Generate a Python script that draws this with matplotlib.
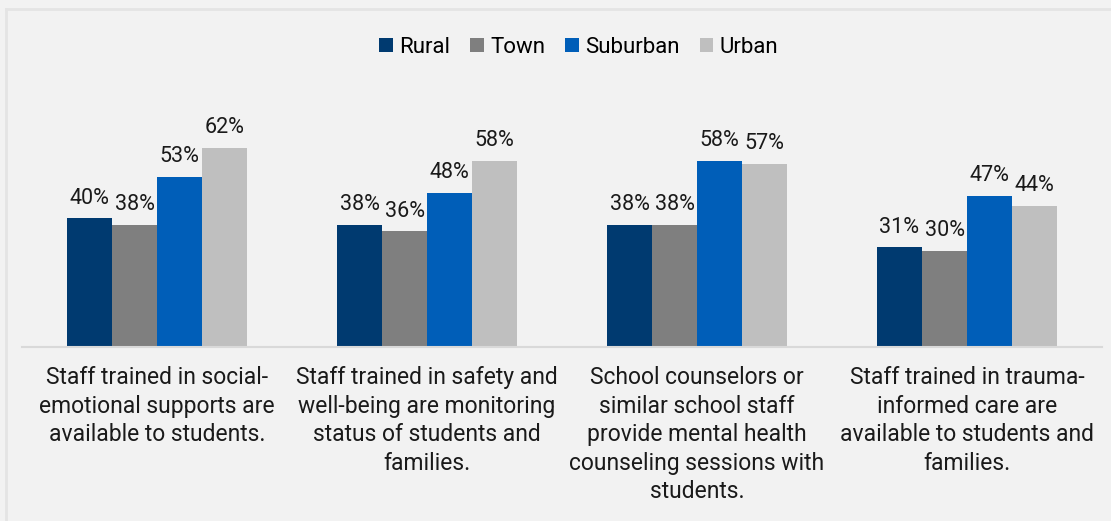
import numpy as np
import matplotlib.pyplot as plt
from matplotlib.lines import Line2D

plt.rcParams['font.family'] = ['Roboto', 'DejaVu Sans']

categories = [
    "Staff trained in social-\nemotional supports are\navailable to students.",
    "Staff trained in safety and\nwell-being are monitoring\nstatus of students and\nfamilies.",
    "School counselors or\nsimilar school staff\nprovide mental health\ncounseling sessions with\nstudents.",
    "Staff trained in trauma-\ninformed care are\navailable to students and\nfamilies.",
]
series = ["Rural", "Town", "Suburban", "Urban"]
rural = [40, 38, 38, 31]
town = [38, 36, 38, 30]
suburban = [53, 48, 58, 47]
urban = [62, 58, 57, 44]
colors = ["#003a70", "#7f7f7f", "#005eb8", "#bfbfbf"]

bg = "#f2f2f2"
fig = plt.figure(figsize=(11.11, 5.21), dpi=100, facecolor=bg)
ax = fig.add_axes([22/1111, (521-347)/521, 1080/1111, 225/521])
ax.set_facecolor(bg)

# chart border (top and left edges visible)
fig.add_artist(Line2D([5.5/1111, 5.5/1111], [0, 1-8.5/521], transform=fig.transFigure,
                      color="#e4e4e4", lw=2))
fig.add_artist(Line2D([5.5/1111, 1], [1-8.5/521, 1-8.5/521], transform=fig.transFigure,
                      color="#e4e4e4", lw=2))

x = np.arange(len(categories))
w = 1/6
for i, (name, vals) in enumerate(zip(series, [rural, town, suburban, urban])):
    pos = x + (i - 1.5) * w
    bars = ax.bar(pos, vals, width=w, color=colors[i], label=name, zorder=2)
    for xp, v in zip(pos, vals):
        ax.text(xp, v + 3.0, f"{v}%", ha="center", va="bottom", fontsize=15.5, color="#1a1a1a")

ax.set_xlim(-0.5, len(categories) - 0.5)
ax.set_ylim(0, 70)
ax.set_yticks([])
ax.set_xticks(x)
ax.set_xticklabels(categories, fontsize=16.5, color="#1a1a1a", linespacing=1.3)
ax.tick_params(axis="x", length=0, pad=14)
for s in ["top", "right", "left"]:
    ax.spines[s].set_visible(False)
ax.spines["bottom"].set_color("#d9d9d9")
ax.spines["bottom"].set_linewidth(1.5)

fig.legend(loc="center", bbox_to_anchor=(579/1111, 1-47/521), ncol=4, frameon=False,
           fontsize=16, handlelength=0.6, handleheight=0.6, handletextpad=0.3,
           columnspacing=0.9)

fig.savefig("out.png", dpi=100, facecolor=bg)
